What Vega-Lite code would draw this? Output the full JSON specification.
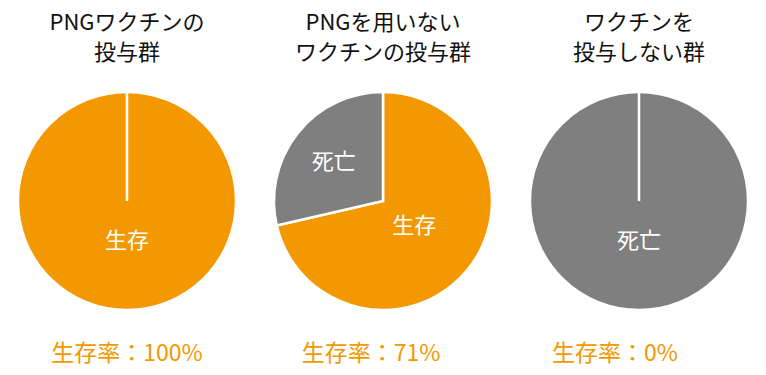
{
  "$schema": "https://vega.github.io/schema/vega-lite/v6.json",
  "background": "white",
  "padding": {"left": 13, "top": 12, "right": 0, "bottom": 0},
  "config": {
    "view": {"stroke": null},
    "font": "Noto Sans CJK JP",
    "title": {"font": "Noto Sans CJK JP", "fontSize": 22, "fontWeight": "normal", "color": "#111111", "lineHeight": 30, "offset": 22, "anchor": "middle"},
    "concat": {"spacing": 28}
  },
  "datasets": {
    "pies": [
      {"group": "A", "cat": "生存", "value": 100, "ord": 1},
      {"group": "A", "cat": "死亡", "value": 0, "ord": 2},
      {"group": "B", "cat": "生存", "value": 71.4, "ord": 1},
      {"group": "B", "cat": "死亡", "value": 28.6, "ord": 2},
      {"group": "C", "cat": "死亡", "value": 100, "ord": 2},
      {"group": "C", "cat": "生存", "value": 0, "ord": 1}
    ],
    "rates": [
      {"group": "A", "label": "生存率：100%"},
      {"group": "B", "label": "生存率：71%"},
      {"group": "C", "label": "生存率：0%"}
    ]
  },
  "vconcat": [
    {
      "hconcat": [
        {
          "title": {"text": ["PNGワクチンの", "投与群"]},
          "width": 216, "height": 216,
          "data": {"name": "pies"},
          "transform": [{"filter": "datum.group === 'A'"}],
          "layer": [
            {
              "mark": {"type": "arc", "outerRadius": 109, "stroke": "white", "strokeWidth": 2.5},
              "encoding": {
                "theta": {"field": "value", "type": "quantitative", "stack": true},
                "order": {"field": "ord", "type": "quantitative"},
                "color": {"field": "cat", "type": "nominal", "scale": {"domain": ["生存", "死亡"], "range": ["#F39800", "#7F7F7F"]}, "legend": null}
              }
            },
            {
              "mark": {"type": "text", "fontSize": 22, "color": "white", "font": "Noto Sans CJK JP", "radius": 40},
              "encoding": {
                "theta": {"field": "value", "type": "quantitative", "stack": true},
                "order": {"field": "ord", "type": "quantitative"},
                "text": {"condition": {"test": "datum.value > 0 && !(datum.cat === '死亡' && datum.value < 100)", "field": "cat"}, "value": ""}
              }
            },
            {
              "mark": {"type": "text", "fontSize": 22, "color": "white", "font": "Noto Sans CJK JP", "radius": 63},
              "encoding": {
                "theta": {"field": "value", "type": "quantitative", "stack": true},
                "order": {"field": "ord", "type": "quantitative"},
                "text": {"condition": {"test": "datum.value > 0 && datum.cat === '死亡' && datum.value < 100", "field": "cat"}, "value": ""}
              }
            }
          ]
        },
        {
          "title": {"text": ["PNGを用いない", "ワクチンの投与群"]},
          "width": 216, "height": 216,
          "data": {"name": "pies"},
          "transform": [{"filter": "datum.group === 'B'"}],
          "layer": [
            {
              "mark": {"type": "arc", "outerRadius": 109, "stroke": "white", "strokeWidth": 2.5},
              "encoding": {
                "theta": {"field": "value", "type": "quantitative", "stack": true},
                "order": {"field": "ord", "type": "quantitative"},
                "color": {"field": "cat", "type": "nominal", "scale": {"domain": ["生存", "死亡"], "range": ["#F39800", "#7F7F7F"]}, "legend": null}
              }
            },
            {
              "mark": {"type": "text", "fontSize": 22, "color": "white", "font": "Noto Sans CJK JP", "radius": 40},
              "encoding": {
                "theta": {"field": "value", "type": "quantitative", "stack": true},
                "order": {"field": "ord", "type": "quantitative"},
                "text": {"condition": {"test": "datum.value > 0 && !(datum.cat === '死亡' && datum.value < 100)", "field": "cat"}, "value": ""}
              }
            },
            {
              "mark": {"type": "text", "fontSize": 22, "color": "white", "font": "Noto Sans CJK JP", "radius": 63},
              "encoding": {
                "theta": {"field": "value", "type": "quantitative", "stack": true},
                "order": {"field": "ord", "type": "quantitative"},
                "text": {"condition": {"test": "datum.value > 0 && datum.cat === '死亡' && datum.value < 100", "field": "cat"}, "value": ""}
              }
            }
          ]
        },
        {
          "title": {"text": ["ワクチンを", "投与しない群"]},
          "width": 216, "height": 216,
          "data": {"name": "pies"},
          "transform": [{"filter": "datum.group === 'C'"}],
          "layer": [
            {
              "mark": {"type": "arc", "outerRadius": 109, "stroke": "white", "strokeWidth": 2.5},
              "encoding": {
                "theta": {"field": "value", "type": "quantitative", "stack": true},
                "order": {"field": "ord", "type": "quantitative"},
                "color": {"field": "cat", "type": "nominal", "scale": {"domain": ["生存", "死亡"], "range": ["#F39800", "#7F7F7F"]}, "legend": null}
              }
            },
            {
              "mark": {"type": "text", "fontSize": 22, "color": "white", "font": "Noto Sans CJK JP", "radius": 40},
              "encoding": {
                "theta": {"field": "value", "type": "quantitative", "stack": true},
                "order": {"field": "ord", "type": "quantitative"},
                "text": {"condition": {"test": "datum.value > 0 && !(datum.cat === '死亡' && datum.value < 100)", "field": "cat"}, "value": ""}
              }
            },
            {
              "mark": {"type": "text", "fontSize": 22, "color": "white", "font": "Noto Sans CJK JP", "radius": 63},
              "encoding": {
                "theta": {"field": "value", "type": "quantitative", "stack": true},
                "order": {"field": "ord", "type": "quantitative"},
                "text": {"condition": {"test": "datum.value > 0 && datum.cat === '死亡' && datum.value < 100", "field": "cat"}, "value": ""}
              }
            }
          ]
        }
      ]
    },
    {
      "hconcat": [
        {
          "width": 216, "height": 30,
          "data": {"name": "rates"},
          "transform": [{"filter": "datum.group === 'A'"}],
          "mark": {"type": "text", "fontSize": 23, "color": "#F39800", "font": "Noto Sans CJK JP"},
          "encoding": {"text": {"field": "label"}}
        },
        {
          "width": 216, "height": 30,
          "data": {"name": "rates"},
          "transform": [{"filter": "datum.group === 'B'"}],
          "mark": {"type": "text", "fontSize": 23, "color": "#F39800", "font": "Noto Sans CJK JP"},
          "encoding": {"text": {"field": "label"}}
        },
        {
          "width": 216, "height": 30,
          "data": {"name": "rates"},
          "transform": [{"filter": "datum.group === 'C'"}],
          "mark": {"type": "text", "fontSize": 23, "color": "#F39800", "font": "Noto Sans CJK JP"},
          "encoding": {"text": {"field": "label"}}
        }
      ]
    }
  ],
  "spacing": 24
}
